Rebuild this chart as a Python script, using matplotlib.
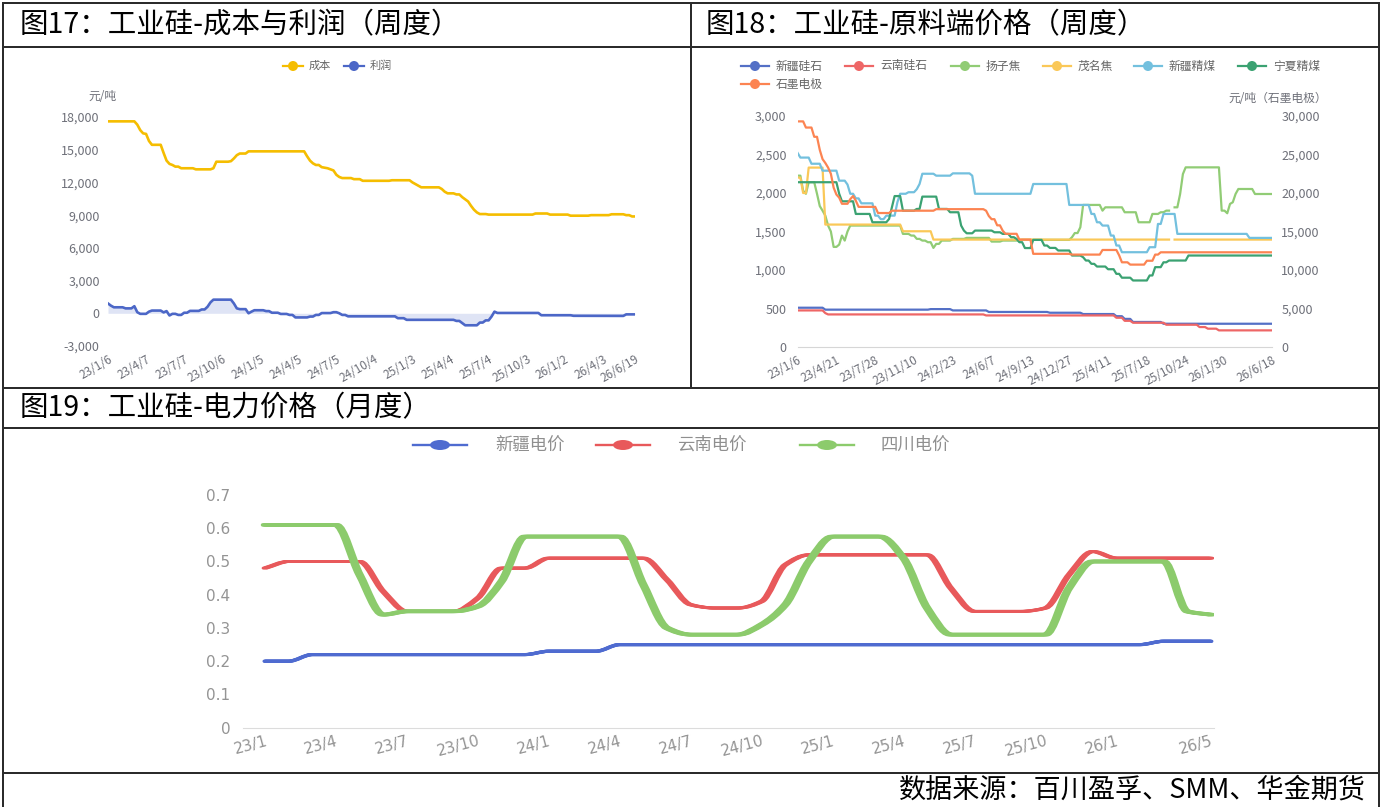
import numpy as np
import matplotlib
matplotlib.use("Agg")
import matplotlib.pyplot as plt
from matplotlib.lines import Line2D
from matplotlib.path import Path
from matplotlib.patches import PathPatch, Ellipse
from matplotlib.transforms import ScaledTranslation
from matplotlib.ticker import FuncFormatter, MultipleLocator

plt.rcParams["font.family"] = ["Noto Sans CJK SC", "DejaVu Sans"]

W, H = 1382, 807

# ---------------- 图17: cost & profit, weekly (run-length encoded: level, number of weeks)
cost_tick_labels = ["23/1/6", "23/4/7", "23/7/7", "23/10/6", "24/1/5", "24/4/5", "24/7/5",
                    "24/10/4", "25/1/3", "25/4/4", "25/7/4", "25/10/3", "26/1/2", "26/4/3", "26/6/19"]
cost_levels = [17600, 17300, 16800, 16500, 16450, 15800, 15450, 14700, 14000, 13700, 13600, 13450,
               13300, 13200, 13300, 13900, 13950, 14200, 14500, 14650, 14850, 14400, 14000, 13750,
               13600, 13400, 13350, 13300, 13200, 13100, 12700, 12500, 12400, 12300, 12150, 12200,
               12000, 11850, 11700, 11550, 11400, 11150, 11000, 10900, 10650, 10450, 10250, 9850,
               9500, 9250, 9100, 9050, 9150, 9050, 8950, 9000, 9080, 9000, 8880]
cost_weeks = [10, 1, 1, 1, 1, 1, 4, 1, 1, 1, 1, 2,
              5, 6, 1, 5, 1, 1, 1, 3, 20, 1, 1, 1,
              2, 1, 1, 1, 1, 1, 1, 1, 4, 3, 10, 7,
              1, 1, 1, 7, 1, 1, 3, 2, 1, 1, 1, 1,
              1, 1, 3, 16, 5, 7, 7, 7, 5, 2, 2]
profit_levels = [900, 700, 550, 450, 650, 100, -50, 150, 250, 80, 200, -200, -50, -150, 50, 220,
                 350, 600, 1000, 1250, 900, 450, 380, 0, 150, 280, 200, 50, -60, -150, -380, -300,
                 -150, 20, 100, 0, -150, -280, -450, -600, -700, -900, -1100, -850, -650, -300, 150,
                 30, -180, -230, -240, -100]
profit_weeks = [1, 1, 4, 3, 1, 1, 3, 1, 4, 1, 1, 1, 2, 2, 2, 4,
                2, 1, 1, 7, 1, 1, 3, 1, 1, 4, 2, 3, 3, 2, 5, 2,
                2, 4, 2, 1, 2, 17, 3, 17, 2, 1, 5, 2, 2, 1, 1,
                15, 11, 2, 16, 4]

# ---------------- 图18: raw material prices, weekly categories (run-length encoded)
raw_tick_labels = ["23/1/6", "23/4/21", "23/7/28", "23/11/10", "24/2/23", "24/6/7", "24/9/13",
                   "24/12/27", "25/4/11", "25/7/18", "25/10/24", "26/1/30", "26/6/18"]
xj_silica_levels = [510, 485, 492, 475, 455, 445, 428, 400, 365, 325, 302]
xj_silica_weeks = [10, 38, 8, 13, 22, 12, 12, 3, 3, 11, 40]
yn_silica_levels = [475, 440, 423, 410, 380, 340, 315, 289, 259, 238, 216]
yn_silica_weeks = [10, 1, 57, 47, 3, 3, 12, 12, 3, 4, 20]
yangzi_coke_levels = [2225, 2030, 1990, 2140, 1990, 1830, 1771, 1706, 1577, 1500, 1300, 1330, 1447,
                      1382, 1500, 1577, 1469, 1447, 1404, 1382, 1361, 1287, 1339, 1382, 1404, 1417,
                      1369, 1382, 1391, 1426, 1480, 1555, 1845, 1771, 1814, 1750, 1620, 1728, 1750,
                      1771, np.nan, 1814, 1987, 2246, 2333, 1771, 1737, 1858, 1880, 1987, 2052, 1987]
yangzi_coke_weeks = [2, 1, 1, 3, 1, 1, 1, 1, 1, 1, 2, 1, 1,
                     1, 1, 19, 3, 2, 2, 2, 2, 1, 2, 4, 5, 9,
                     4, 7, 18, 1, 2, 1, 7, 1, 7, 5, 5, 3, 2,
                     2, 1, 2, 1, 1, 13, 2, 1, 1, 1, 1, 6, 7]
maoming_coke_levels = [2200, 2000, 2330, 1590, 1503, 1395, np.nan, 1395]
maoming_coke_weeks = [2, 2, 6, 28, 11, 86, 1, 36]
xj_coal_levels = [2520, 2460, 2380, 2290, 2160, 2110, 1990, 1930, 1866, 1706, 1660, 1706, 1880,
                  1990, 2010, 2050, 2117, 2250, 2225, 2255, 2225, 1990, 2117, 1845, 1728, 1620,
                  1577, 1447, 1318, 1231, 1296, 1598, 1728, 1469, 1417]
xj_coal_weeks = [1, 4, 4, 6, 3, 1, 2, 2, 5, 2, 2, 4, 1,
                 3, 3, 1, 1, 5, 6, 7, 1, 21, 13, 8, 2, 2,
                 3, 2, 2, 10, 3, 2, 5, 26, 9]
nx_coal_levels = [2140, 1990, 1892, 1728, 1620, 1663, 1814, 1960, 1771, 1793, 1953, 1793, 1750,
                  1577, 1512, 1477, 1512, 1490, 1469, 1426, 1404, 1361, 1285, 1391, 1318, 1287,
                  1253, 1188, 1166, 1123, 1080, 1045, 1010, 950, 900, 864, 929, 1037, 1100, 1123, 1188]
nx_coal_weeks = [15, 1, 5, 6, 6, 1, 1, 3, 5, 2, 6, 4, 4,
                 1, 1, 3, 7, 3, 3, 2, 1, 2, 3, 4, 2, 3,
                 5, 4, 1, 2, 2, 4, 3, 2, 4, 6, 2, 3, 2, 7, 31]
electrode_levels = [29300, 28500, 27300, 25600, 24400, 23900, 23300, 22500, 20700, 19800, 19400,
                    18600, 19200, 19600, 19000, 18200, 17400, 17700, 17900, 17700, 17000, 16600,
                    15800, 15100, 14700, 13950, 12100, 12000, 12600, 11900, 11000, 10700, 11200,
                    12000, 12300]
electrode_weeks = [3, 3, 2, 1, 1, 1, 1, 1, 1, 1, 1,
                   3, 1, 1, 1, 7, 5, 16, 18, 1, 1, 2,
                   2, 1, 5, 5, 14, 11, 6, 1, 3, 6, 3,
                   2, 41]

# ---------------- 图19: electricity prices, monthly (23/1 .. 26/5)
months = [f"{23 + (k // 12)}/{k % 12 + 1}" for k in range(41)]
xinjiang_power = [0.20, 0.20, 0.22, 0.22, 0.22, 0.22, 0.22, 0.22, 0.22, 0.22, 0.22, 0.22, 0.23, 0.23,
                  0.23, 0.25, 0.25, 0.25, 0.25, 0.25, 0.25, 0.25, 0.25, 0.25, 0.25, 0.25, 0.25, 0.25,
                  0.25, 0.25, 0.25, 0.25, 0.25, 0.25, 0.25, 0.25, 0.25, 0.25, 0.26, 0.26, 0.26]
yunnan_power = [0.48, 0.50, 0.50, 0.50, 0.50, 0.41, 0.35, 0.35, 0.35, 0.39, 0.48, 0.48, 0.51, 0.51,
                0.51, 0.51, 0.51, 0.445, 0.37, 0.36, 0.36, 0.38, 0.49, 0.52, 0.52, 0.52, 0.52, 0.52,
                0.52, 0.42, 0.35, 0.35, 0.35, 0.36, 0.46, 0.53, 0.51, 0.51, 0.51, 0.51, 0.51]
sichuan_power = [0.61, 0.61, 0.61, 0.61, 0.46, 0.34, 0.35, 0.35, 0.35, 0.365, 0.44, 0.575, 0.575, 0.575,
                 0.575, 0.575, 0.43, 0.30, 0.28, 0.28, 0.28, 0.31, 0.37, 0.50, 0.575, 0.575, 0.575,
                 0.51, 0.36, 0.28, 0.28, 0.28, 0.28, 0.28, 0.42, 0.50, 0.50, 0.50, 0.50, 0.35, 0.34]


def expand(levels, weeks):
    return np.repeat(np.asarray(levels, dtype=float), weeks)


def label_positions(n, step):
    # every `step` categories, plus the last one when it is not crowded
    pos = [k for k in range(0, n - 1, step) if (n - 1 - k) * 2 >= step]
    return pos + [n - 1]


fig = plt.figure(figsize=(W / 100, H / 100), dpi=100)
fig.patch.set_facecolor("white")


def fx(x):
    return x / W


def fy(y):
    return 1 - y / H


def box(x0, y0, x1, y1):
    return [fx(x0), fy(y1), (x1 - x0) / W, (y1 - y0) / H]


def seg(x0, y0, x1, y1, color="#2b2b2b", lw=2.0):
    fig.add_artist(Line2D([fx(x0), fx(x1)], [fy(y0), fy(y1)], transform=fig.transFigure,
                          color=color, lw=lw * 0.72, solid_capstyle="projecting"))


def legend_item(x0, x1, y, color, lw, mw, mh, label, size, tcolor, tx, ha="left"):
    fig.add_artist(Line2D([fx(x0), fx(x1)], [fy(y), fy(y)], transform=fig.transFigure,
                          color=color, lw=lw))
    fig.add_artist(Ellipse((fx((x0 + x1) / 2), fy(y)), mw / W, mh / H, transform=fig.transFigure,
                           facecolor=color, edgecolor="none"))
    fig.text(fx(tx), fy(y), label, fontsize=size, color=tcolor, va="center", ha=ha)


def smooth_line(ax, x, y, color, lw, spread=0.0, zorder=3):
    x = np.asarray(x, float)
    y = np.asarray(y, float)
    d = np.diff(y) / np.diff(x)
    m = np.zeros_like(y)
    m[0], m[-1] = d[0], d[-1]
    inner = m[1:-1]
    same = d[:-1] * d[1:] > 0
    inner[same] = 2 * d[:-1][same] * d[1:][same] / (d[:-1][same] + d[1:][same])
    verts = [(x[0], y[0])]
    codes = [Path.MOVETO]
    for i in range(len(x) - 1):
        h = x[i + 1] - x[i]
        verts += [(x[i] + h / 3, y[i] + m[i] * h / 3),
                  (x[i + 1] - h / 3, y[i + 1] - m[i + 1] * h / 3),
                  (x[i + 1], y[i + 1])]
        codes += [Path.CURVE4] * 3
    path = Path(verts, codes)
    offsets = np.linspace(-spread, spread, 5) if spread > 0 else [0.0]
    for off in offsets:
        tr = ax.transData + ScaledTranslation(off / 100, 0, fig.dpi_scale_trans)
        ax.add_patch(PathPatch(path, fill=False, edgecolor=color, lw=lw, transform=tr,
                               capstyle="round", joinstyle="round", zorder=zorder))


def style_axes(ax):
    for s in ax.spines.values():
        s.set_visible(False)
    ax.tick_params(length=0)
    ax.set_facecolor("none")


thousands = FuncFormatter(lambda v, p: f"{v:,.0f}")
axis_gray = "#6E7079"

# ---------------- table frame and captions
seg(3, 2.5, 1379, 2.5)
seg(3, 2.5, 3, 807)
seg(1379, 2.5, 1379, 807)
seg(3, 47, 1379, 47)
seg(691, 2.5, 691, 388)
seg(3, 388, 1379, 388)
seg(3, 428, 1379, 428)
seg(3, 773, 1379, 773)

cap_size = 20.5
fig.text(fx(20), fy(25), "图17：工业硅-成本与利润（周度）", fontsize=cap_size, va="center", ha="left", color="black")
fig.text(fx(706), fy(25), "图18：工业硅-原料端价格（周度）", fontsize=cap_size, va="center", ha="left", color="black")
fig.text(fx(20), fy(408), "图19：工业硅-电力价格（月度）", fontsize=cap_size, va="center", ha="left", color="black")
fig.text(fx(1366), fy(790), "数据来源：百川盈孚、SMM、华金期货", fontsize=19.5, va="center", ha="right", color="black")

# ---------------- 图17
cost = expand(cost_levels, cost_weeks)
profit = expand(profit_levels, profit_weeks)
wk = np.arange(len(cost))
ax1 = fig.add_axes(box(108, 117, 635, 346))
style_axes(ax1)
ax1.fill_between(wk, profit, 0, color="#dfe4f5", lw=0, zorder=1)
ax1.plot(wk, cost, color="#F5BD00", lw=1.9, zorder=3, solid_joinstyle="round")
ax1.plot(wk, profit, color="#4C67C7", lw=1.9, zorder=3, solid_joinstyle="round")
ax1.set_xlim(0, len(cost) - 1)
ax1.set_ylim(-3000, 18000)
ax1.yaxis.set_major_locator(MultipleLocator(3000))
ax1.yaxis.set_major_formatter(thousands)
ax1.tick_params(axis="y", labelsize=9, labelcolor=axis_gray, pad=6)
ax1.set_xticks(label_positions(len(cost), 13))
ax1.set_xticklabels(cost_tick_labels, rotation=30, ha="right", va="top", rotation_mode="anchor",
                    fontsize=8.5, color=axis_gray)
ax1.tick_params(axis="x", pad=5)
fig.text(fx(102), fy(97), "元/吨", fontsize=8.5, color=axis_gray, ha="center", va="center")
legend_item(283, 303, 66, "#F5BD00", 1.6, 10, 10, "成本", 8, "#666666", 309)
legend_item(344, 364, 66, "#4C67C7", 1.6, 10, 10, "利润", 8, "#666666", 370)

# ---------------- 图18
raw_series = [
    ("新疆硅石", expand(xj_silica_levels, xj_silica_weeks), "#5470C6"),
    ("云南硅石", expand(yn_silica_levels, yn_silica_weeks), "#EE6666"),
    ("扬子焦", expand(yangzi_coke_levels, yangzi_coke_weeks), "#91CC75"),
    ("茂名焦", expand(maoming_coke_levels, maoming_coke_weeks), "#FAC858"),
    ("新疆精煤", expand(xj_coal_levels, xj_coal_weeks), "#73C0DE"),
    ("宁夏精煤", expand(nx_coal_levels, nx_coal_weeks), "#3BA272"),
]
electrode = expand(electrode_levels, electrode_weeks)
n2 = len(electrode)
ax2 = fig.add_axes(box(797.6, 116, 1271.6, 347))
style_axes(ax2)
ax2.spines["bottom"].set_visible(True)
ax2.spines["bottom"].set_color("#d6d6d6")
for name, vals, col in raw_series:
    ax2.plot(np.arange(n2), vals, color=col, lw=1.6, solid_joinstyle="round")
ax2.set_xlim(0, n2 - 1)
ax2.set_ylim(0, 3000)
ax2.yaxis.set_major_locator(MultipleLocator(500))
ax2.yaxis.set_major_formatter(thousands)
ax2.tick_params(axis="y", labelsize=9, labelcolor=axis_gray, pad=8)
ax2.set_xticks(label_positions(n2, 14))
ax2.set_xticklabels(raw_tick_labels, rotation=28, ha="right", va="top", rotation_mode="anchor",
                    fontsize=8.5, color=axis_gray)
ax2.tick_params(axis="x", pad=5)
ax2r = ax2.twinx()
style_axes(ax2r)
ax2r.plot(np.arange(n2), electrode, color="#FC8452", lw=1.6, solid_joinstyle="round")
ax2r.set_ylim(0, 30000)
ax2r.yaxis.set_major_locator(MultipleLocator(5000))
ax2r.yaxis.set_major_formatter(thousands)
ax2r.tick_params(axis="y", labelsize=9, labelcolor=axis_gray, pad=7)
fig.text(fx(1327), fy(98), "元/吨（石墨电极）", fontsize=8.5, color=axis_gray, ha="right", va="center")

legend_x = [741, 845, 951, 1043, 1134, 1238]
for (name, vals, col), lx in zip(raw_series, legend_x):
    legend_item(lx, lx + 28, 66, col, 1.6, 10, 10, name, 8.5, "#666666", lx + 35)
legend_item(741, 769, 84, "#FC8452", 1.6, 10, 10, "石墨电极", 8.5, "#666666", 776)

# ---------------- 图19
ax3 = fig.add_axes(box(243, 495, 1214, 727.7))
style_axes(ax3)
ax3.spines["bottom"].set_visible(True)
ax3.spines["bottom"].set_color("#dcdcdc")
mx = np.arange(len(months))
smooth_line(ax3, mx, xinjiang_power, "#4F6BD0", 2.2, spread=1.0)
smooth_line(ax3, mx, yunnan_power, "#E8595B", 2.0, spread=2.0)
smooth_line(ax3, mx, sichuan_power, "#8CCB6C", 2.5, spread=2.5)
ax3.set_xlim(-0.93, 40.13)
ax3.set_ylim(0, 0.7)
ax3.yaxis.set_major_locator(MultipleLocator(0.1))
ax3.yaxis.set_major_formatter(FuncFormatter(lambda v, p: "0" if abs(v) < 1e-9 else f"{v:.1f}"))
for t in ax3.get_yticklabels():
    t.set_family("DejaVu Sans")
ax3.tick_params(axis="y", labelsize=11, labelcolor="#949494", pad=9)
pos3 = label_positions(len(months), 3)
ax3.set_xticks(pos3)
ax3.set_xticklabels([months[i] for i in pos3], rotation=15, ha="right", va="top",
                    rotation_mode="anchor", fontsize=11, color="#949494", family="DejaVu Sans")
ax3.tick_params(axis="x", pad=4)

legend_item(413, 467, 445, "#4F6BD0", 1.7, 20, 10, "新疆电价", 12.5, "#8f8f8f", 530, ha="center")
legend_item(596, 650, 445, "#E8595B", 1.7, 20, 10, "云南电价", 12.5, "#8f8f8f", 712, ha="center")
legend_item(800, 854, 445, "#8CCB6C", 1.7, 20, 10, "四川电价", 12.5, "#8f8f8f", 915, ha="center")

fig.savefig("out.png", dpi=100, facecolor="white")
